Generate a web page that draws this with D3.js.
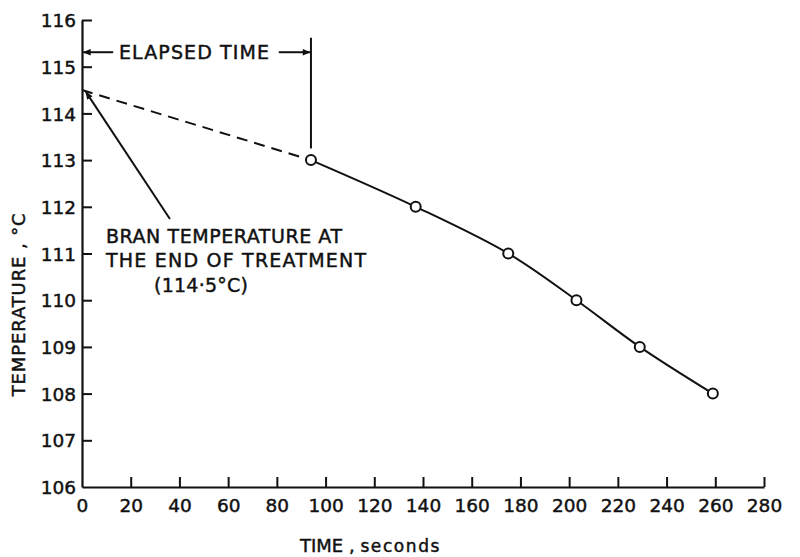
<!DOCTYPE html>
<html>
<head>
<meta charset="utf-8">
<script src="https://cdn.jsdelivr.net/npm/d3@7"></script>
<style>
  html, body { margin: 0; padding: 0; background: #fff; }
  svg text { font-family: "DejaVu Sans", sans-serif; fill: #111; stroke: #111; stroke-width: 0.45px; }
</style>
</head>
<body>
<svg id="chart" width="800" height="557"></svg>
<script>
// Measured cooling of bran after treatment
const timeSec = [94, 137, 175, 203, 229, 259];
const tempC   = [113, 112, 111, 110, 109, 108];

// Extrapolated start: bran temperature at end of treatment
const startTime = 0;
const startTemp = 114.5;

const xTicks = [0, 20, 40, 60, 80, 100, 120, 140, 160, 180, 200, 220, 240, 260, 280];
const yTicks = [106, 107, 108, 109, 110, 111, 112, 113, 114, 115, 116];

const svg = d3.select("#chart");
const ink = "#111";

const x = d3.scaleLinear().domain([0, 280]).range([82, 764]);
const y = d3.scaleLinear().domain([106, 116]).range([487, 20]);

// Axes: ticks point inward, labels outside
const xAxis = d3.axisBottom(x).tickValues(xTicks).tickSize(-10).tickPadding(12).tickSizeOuter(0)
  .tickFormat(d3.format("d"));
const yAxis = d3.axisLeft(y).tickValues(yTicks).tickSize(-10).tickPadding(6).tickSizeOuter(0)
  .tickFormat(d3.format("d"));

const gx = svg.append("g").attr("transform", `translate(0,${y(106)})`).call(xAxis);
const gy = svg.append("g").attr("transform", `translate(${x(0)},0)`).call(yAxis);

[gx, gy].forEach(g => {
  g.select(".domain").attr("stroke", ink).attr("stroke-width", 2.2);
  g.selectAll(".tick line").attr("stroke", ink).attr("stroke-width", 2);
  g.selectAll(".tick text").attr("fill", ink).style("font-size", "18.5px");
});
gy.selectAll(".tick text").attr("dy", "0.36em");
// hide the inward tick at the origin on both axes
gx.selectAll(".tick").filter(d => d === 0).select("line").remove();
gy.selectAll(".tick").filter(d => d === 106).select("line").remove();

// Axis titles
svg.append("text")
  .attr("transform", `translate(25,${(y(108.1) + y(111.7)) / 2}) rotate(-90)`)
  .attr("text-anchor", "middle")
  .style("font-size", "18px")
  .attr("textLength", 183).attr("lengthAdjust", "spacing")
  .text("TEMPERATURE , °C");

const xt = svg.append("text")
  .attr("x", 300).attr("y", 552)
  .style("font-size", "18px");
xt.append("tspan").text("TIME , ");
xt.append("tspan").style("font-size", "17px").style("letter-spacing", "1.6px").text("seconds");

// Dashed extrapolation back to the end of treatment
svg.append("line")
  .attr("x1", x(startTime)).attr("y1", y(startTemp))
  .attr("x2", x(timeSec[0])).attr("y2", y(tempC[0]))
  .attr("stroke", ink).attr("stroke-width", 2)
  .attr("stroke-dasharray", "11,7");

// Smooth cooling curve through measured points
const line = d3.line().x((d, i) => x(timeSec[i])).y(d => y(d)).curve(d3.curveCatmullRom.alpha(0.5));
svg.append("path")
  .datum(tempC)
  .attr("d", line)
  .attr("fill", "none")
  .attr("stroke", ink)
  .attr("stroke-width", 2);

svg.selectAll("circle.pt")
  .data(tempC)
  .join("circle")
  .attr("class", "pt")
  .attr("cx", (d, i) => x(timeSec[i]))
  .attr("cy", d => y(d))
  .attr("r", 5)
  .attr("fill", "#fff")
  .attr("stroke", ink)
  .attr("stroke-width", 2);

// Arrowhead marker
const defs = svg.append("defs");
defs.append("marker")
  .attr("id", "head")
  .attr("viewBox", "0 0 10 10")
  .attr("refX", 9).attr("refY", 5)
  .attr("markerWidth", 10).attr("markerHeight", 8)
  .attr("markerUnits", "userSpaceOnUse")
  .attr("orient", "auto")
  .append("path").attr("d", "M0,1 L10,5 L0,9 Z").attr("fill", ink);

// Elapsed time bracket
const elapsedY = 115.31;
svg.append("line")
  .attr("x1", x(timeSec[0])).attr("x2", x(timeSec[0]))
  .attr("y1", y(115.62)).attr("y2", y(113.25))
  .attr("stroke", ink).attr("stroke-width", 2);
svg.append("line")
  .attr("x1", x(12.8)).attr("x2", x(0.6))
  .attr("y1", y(elapsedY)).attr("y2", y(elapsedY))
  .attr("stroke", ink).attr("stroke-width", 2)
  .attr("marker-end", "url(#head)");
svg.append("line")
  .attr("x1", x(80.8)).attr("x2", x(timeSec[0]) - 1)
  .attr("y1", y(elapsedY)).attr("y2", y(elapsedY))
  .attr("stroke", ink).attr("stroke-width", 2)
  .attr("marker-end", "url(#head)");
svg.append("text")
  .attr("x", 119).attr("y", y(elapsedY) + 7)
  .style("font-size", "19px")
  .attr("textLength", 150).attr("lengthAdjust", "spacing")
  .text("ELAPSED TIME");

// Pointer to the starting temperature
svg.append("line")
  .attr("x1", x(36.1)).attr("y1", y(111.74))
  .attr("x2", x(1.6)).attr("y2", y(114.46))
  .attr("stroke", ink).attr("stroke-width", 2)
  .attr("marker-end", "url(#head)");

const note = [
  { text: "BRAN TEMPERATURE AT", x: 106, y: 243, w: 236 },
  { text: "THE END OF TREATMENT", x: 106, y: 267, w: 260 },
  { text: "(114·5°C)", x: 154, y: 292, w: 94 }
];
svg.selectAll("text.note")
  .data(note)
  .join("text")
  .attr("class", "note")
  .attr("x", d => d.x).attr("y", d => d.y)
  .style("font-size", "19px")
  .attr("textLength", d => d.w).attr("lengthAdjust", "spacing")
  .text(d => d.text);
</script>
</body>
</html>
